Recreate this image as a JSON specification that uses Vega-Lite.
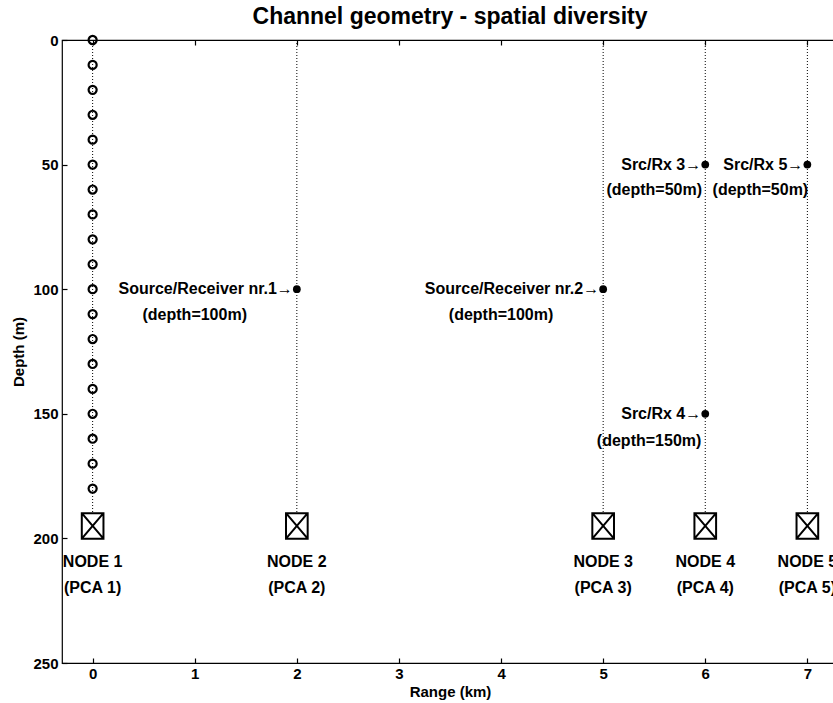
{
  "$schema": "https://vega.github.io/schema/vega-lite/v6.json",
  "width": 776,
  "height": 623,
  "autosize": {"type": "none"},
  "padding": {"left": 62, "top": 40, "right": 0, "bottom": 40},
  "background": "white",
  "title": {"text": "Channel geometry - spatial diversity", "font": "Liberation Sans", "fontSize": 23, "fontWeight": "bold", "color": "black", "offset": 3},
  "config": {
    "view": {"stroke": "black", "strokeWidth": 1.2},
    "axis": {"grid": false, "domain": false, "tickColor": "black", "tickSize": 5, "tickWidth": 1.2, "offset": -5, "labelFont": "Liberation Sans", "labelFontSize": 15, "labelFontWeight": "bold", "labelColor": "black", "titleFont": "Liberation Sans", "titleFontSize": 15, "titleFontWeight": "bold", "titleColor": "black"}
  },
  "datasets": {
    "rules": [
      {"range": 0, "top": 0, "bottom": 190},
      {"range": 2, "top": 0, "bottom": 190},
      {"range": 5, "top": 0, "bottom": 190},
      {"range": 6, "top": 0, "bottom": 190},
      {"range": 7, "top": 0, "bottom": 190}
    ],
    "array": [
      {"range": 0, "depth": 0}, {"range": 0, "depth": 10}, {"range": 0, "depth": 20}, {"range": 0, "depth": 30},
      {"range": 0, "depth": 40}, {"range": 0, "depth": 50}, {"range": 0, "depth": 60}, {"range": 0, "depth": 70},
      {"range": 0, "depth": 80}, {"range": 0, "depth": 90}, {"range": 0, "depth": 100}, {"range": 0, "depth": 110},
      {"range": 0, "depth": 120}, {"range": 0, "depth": 130}, {"range": 0, "depth": 140}, {"range": 0, "depth": 150},
      {"range": 0, "depth": 160}, {"range": 0, "depth": 170}, {"range": 0, "depth": 180}
    ],
    "sources": [
      {"range": 2, "depth": 100, "label": "Source/Receiver nr.1→"},
      {"range": 5, "depth": 100, "label": "Source/Receiver nr.2→"},
      {"range": 6, "depth": 50, "label": "Src/Rx 3→"},
      {"range": 7, "depth": 50, "label": "Src/Rx 5→"},
      {"range": 6, "depth": 150, "label": "Src/Rx 4→"}
    ],
    "nodes": [
      {"range": 0, "depth": 195}, {"range": 2, "depth": 195}, {"range": 5, "depth": 195},
      {"range": 6, "depth": 195}, {"range": 7, "depth": 195}
    ],
    "notes": [
      {"range": 1.0, "depth": 110.5, "label": "(depth=100m)"},
      {"range": 4.0, "depth": 110.5, "label": "(depth=100m)"},
      {"range": 5.5, "depth": 60, "label": "(depth=50m)"},
      {"range": 6.54, "depth": 60, "label": "(depth=50m)"},
      {"range": 5.45, "depth": 161, "label": "(depth=150m)"},
      {"range": 0, "depth": 209.5, "label": "NODE 1"},
      {"range": 0, "depth": 220, "label": "(PCA 1)"},
      {"range": 2, "depth": 209.5, "label": "NODE 2"},
      {"range": 2, "depth": 220, "label": "(PCA 2)"},
      {"range": 5, "depth": 209.5, "label": "NODE 3"},
      {"range": 5, "depth": 220, "label": "(PCA 3)"},
      {"range": 6, "depth": 209.5, "label": "NODE 4"},
      {"range": 6, "depth": 220, "label": "(PCA 4)"},
      {"range": 7, "depth": 209.5, "label": "NODE 5"},
      {"range": 7, "depth": 220, "label": "(PCA 5)"}
    ]
  },
  "resolve": {"axis": {"x": "independent", "y": "independent"}},
  "layer": [
    {
      "data": {"name": "rules"},
      "mark": {"type": "rule", "color": "black", "strokeWidth": 1, "strokeDash": [1, 2]},
      "encoding": {
        "x": {"field": "range", "type": "quantitative", "scale": {"domain": [-0.3, 7.3], "nice": false, "zero": false}, "axis": {"orient": "bottom", "title": "Range (km)", "values": [0, 1, 2, 3, 4, 5, 6, 7], "labelPadding": 3, "titlePadding": 3}},
        "y": {"field": "top", "type": "quantitative", "scale": {"domain": [0, 250], "reverse": true, "nice": false, "zero": false}, "axis": {"orient": "left", "title": "Depth (m)", "values": [0, 50, 100, 150, 200, 250], "labelPadding": 4, "titlePadding": 6}},
        "y2": {"field": "bottom"}
      }
    },
    {
      "data": {"name": "array"},
      "mark": {"type": "point", "shape": "circle", "filled": false, "color": "black", "strokeWidth": 2.2, "size": 65, "opacity": 1},
      "encoding": {
        "x": {"field": "range", "type": "quantitative", "axis": {"orient": "top", "title": null, "labels": false, "values": [0, 1, 2, 3, 4, 5, 6, 7]}},
        "y": {"field": "depth", "type": "quantitative", "axis": {"orient": "right", "title": null, "labels": false, "values": [0, 50, 100, 150, 200, 250]}}
      }
    },
    {
      "data": {"name": "sources"},
      "mark": {"type": "point", "shape": "circle", "filled": true, "color": "black", "size": 60, "opacity": 1},
      "encoding": {
        "x": {"field": "range", "type": "quantitative", "axis": null},
        "y": {"field": "depth", "type": "quantitative", "axis": null}
      }
    },
    {
      "data": {"name": "sources"},
      "mark": {"type": "text", "align": "right", "baseline": "middle", "dx": -4, "font": "Liberation Sans", "fontSize": 16, "fontWeight": "bold", "color": "black"},
      "encoding": {
        "x": {"field": "range", "type": "quantitative", "axis": null},
        "y": {"field": "depth", "type": "quantitative", "axis": null},
        "text": {"field": "label"}
      }
    },
    {
      "data": {"name": "nodes"},
      "mark": {"type": "point", "shape": "M-0.85,-1H0.85V1H-0.85ZM-0.85,-1L0.85,1M-0.85,1L0.85,-1", "filled": false, "color": "black", "strokeWidth": 2, "size": 650, "opacity": 1},
      "encoding": {
        "x": {"field": "range", "type": "quantitative", "axis": null},
        "y": {"field": "depth", "type": "quantitative", "axis": null}
      }
    },
    {
      "data": {"name": "notes"},
      "mark": {"type": "text", "align": "center", "baseline": "middle", "font": "Liberation Sans", "fontSize": 16, "fontWeight": "bold", "color": "black"},
      "encoding": {
        "x": {"field": "range", "type": "quantitative", "axis": null},
        "y": {"field": "depth", "type": "quantitative", "axis": null},
        "text": {"field": "label"}
      }
    }
  ]
}
